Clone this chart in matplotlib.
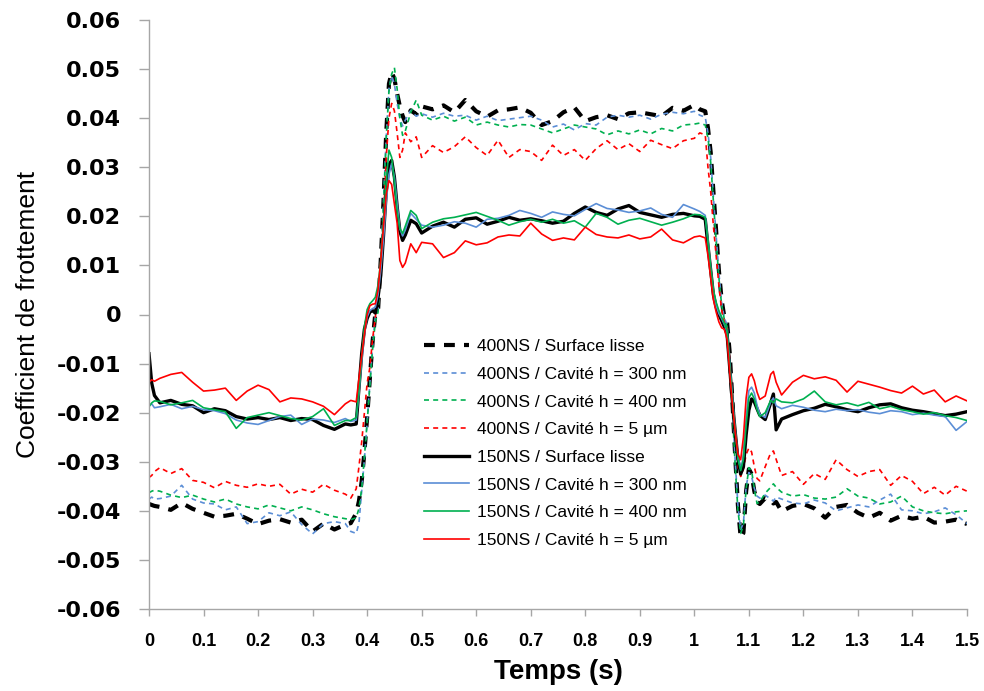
#!/usr/bin/env python3
"""
plot.py - Coefficient de frottement vs temps, 400NS (dashed) and 150NS (solid) runs.
Writes: out.png
"""
import matplotlib
matplotlib.use("Agg")
import matplotlib.pyplot as plt
import numpy as np

# sample times (s), denser around the two reversals
t = ([0.0, 0.005, 0.01]
     + [0.02, 0.04, 0.06, 0.08, 0.10, 0.12, 0.14, 0.16, 0.18, 0.20, 0.22, 0.24, 0.26, 0.28,
        0.30, 0.32, 0.34, 0.36]
     + [0.37, 0.38, 0.385, 0.39, 0.395, 0.40, 0.405, 0.41, 0.415, 0.42, 0.425, 0.43, 0.435,
        0.44, 0.445, 0.45, 0.455, 0.46, 0.465, 0.47, 0.48, 0.49, 0.50]
     + [0.52, 0.54, 0.56, 0.58, 0.60, 0.62, 0.64, 0.66, 0.68, 0.70, 0.72, 0.74, 0.76, 0.78,
        0.80, 0.82, 0.84, 0.86, 0.88, 0.90, 0.92, 0.94, 0.96, 0.98, 1.00]
     + [1.01, 1.02, 1.025, 1.03, 1.035, 1.04, 1.045, 1.05, 1.055, 1.06, 1.065, 1.07, 1.075,
        1.08, 1.085, 1.09, 1.095, 1.10, 1.105, 1.11, 1.115, 1.12, 1.13, 1.14, 1.145, 1.15, 1.16]
     + [1.18, 1.20, 1.22, 1.24, 1.26, 1.28, 1.30, 1.32, 1.34, 1.36, 1.38, 1.40, 1.42, 1.44,
        1.46, 1.48, 1.50])

# friction coefficient values, in thousandths
ns400_lisse = ([-38.6, -38.8, -39]
    + [-39.2, -39.8, -38.4, -39.6, -40.4, -41.2, -41, -40.6, -41.6, -42.7, -42, -41.7, -42.4,
       -41.8, -44.2, -42.6, -43.8, -42.8]
    + [-42.5, -40.5, -38, -34, -28, -21, -13, -5.5, 0.2, 0.8, 11, 23, 37, 47, 49.4, 48, 45,
       42.4, 40.5, 39.2, 41.6, 40.8, 42.4]
    + [41.8, 42.6, 41.2, 43.7, 41.4, 40.3, 41.6, 41.8, 42.2, 41.1, 38.6, 39.4, 41.2, 42.2,
       39.4, 40.2, 40.6, 39.8, 41, 41.2, 40.8, 40.4, 42.1, 41.5, 42.7]
    + [41.8, 41.4, 38, 33, 25, 17, 9, 3, -0.5, -1.5, -8, -18, -29, -39, -45.5, -44.5, -36,
       -31.5, -32.5, -36, -38.2, -38.6, -37.4, -37.8, -38.5, -38.2, -40.1]
    + [-39, -38.6, -39.5, -41.4, -39.2, -38.8, -40.4, -41.4, -40.4, -42, -41, -41.6, -41.2,
       -42.4, -42.2, -41.8, -42.7])

ns400_300 = ([-37.6, -37.2, -37.6]
    + [-37.5, -37, -34.8, -37.6, -38.4, -38.6, -39.8, -39.2, -42.6, -42.2, -40.4, -41, -40.2,
       -42.8, -44.7, -42.6, -42.2, -42.6]
    + [-44.2, -44.6, -42.5, -36, -29.5, -22, -14, -6.5, -0.5, 1, 11, 23, 36, 46, 48.6, 47,
       43, 40, 38.4, 39.6, 41.6, 40.4, 40.9]
    + [40.2, 41, 40.4, 40.6, 39.6, 40.4, 39.5, 39.8, 40.1, 40.4, 39.6, 38.2, 38.8, 37.6,
       38.9, 38.6, 40.2, 40.6, 40.2, 40.6, 39.8, 40.8, 41.2, 40.9, 41.4]
    + [40.6, 40.2, 37, 32, 24, 16, 8.5, 2.5, -0.8, -2, -9, -19, -30, -39, -43.8, -42.5, -35,
       -32.2, -33, -35.4, -37, -37.4, -36.8, -37.6, -38, -37.2, -37.6]
    + [-38.4, -38.6, -37.8, -38.4, -40, -39.4, -38.8, -39.2, -37.8, -36.6, -39.8, -40,
       -40.6, -40.2, -39.4, -40.8, -42.6])

ns400_400 = ([-36.3, -36, -35.8]
    + [-36, -36.8, -37.3, -36.8, -37.6, -38.2, -37.6, -38.6, -39.2, -39.6, -38.8, -39.4, -40,
       -39.2, -39.8, -40.6, -41.2, -41.6]
    + [-41.8, -41.4, -39.5, -35.5, -29, -22, -14.5, -7, -1.5, 0.5, 10, 22, 36, 45.5, 49,
       50.3, 46, 40, 36.5, 37.4, 41.2, 43.7, 40.6]
    + [39.6, 40.4, 39.4, 40.2, 38.6, 39.2, 38.6, 38.2, 38.7, 38.6, 37.8, 37, 37.8, 38.6,
       38.2, 37.8, 36.6, 37.4, 36.8, 37.6, 36.8, 37.9, 37.4, 38.6, 38.8]
    + [39, 38.6, 36, 31, 23, 15, 7.5, 2, -1, -2.5, -9.5, -20, -31, -40, -44.6, -43, -35.5,
       -31.2, -31.8, -35.6, -38.5, -38.2, -36.4, -35.2, -34.5, -35.2, -36.2]
    + [-37, -36.7, -37.4, -37.6, -37.2, -35.5, -37, -37.4, -38.6, -38.2, -37, -39.2, -40,
       -40.4, -40.6, -40.2, -40])

ns400_5um = ([-33.2, -32.8, -32]
    + [-31.2, -32.4, -31.4, -33.8, -34.2, -35.3, -34, -34.8, -35.2, -34.5, -35, -34.6, -36.6,
       -35.6, -36.2, -34.6, -35.8, -36.6]
    + [-37.4, -35.5, -31, -26, -20, -14, -10.8, -5, -0.6, 5, 10, 19, 32, 40, 43, 41.5, 37,
       32, 33.5, 37, 35.2, 36.2, 32]
    + [34.4, 33, 34.2, 36.2, 34, 32.4, 35.5, 32, 33.6, 33.2, 31.4, 34.5, 32.4, 33.6, 31.4,
       33.8, 35.4, 33.6, 34.8, 33.2, 35.5, 34.6, 33.8, 35.4, 35.9]
    + [37, 36.6, 30, 25, 18, 12, 6, 1, -1.5, -3, -9, -17, -25, -31, -33, -31.5, -28.5,
       -27.2, -28, -31, -33.4, -33.9, -31, -28.2, -27.8, -29.5, -32.8]
    + [-32, -34.6, -32.4, -33.6, -29.6, -31.6, -33, -32, -31.6, -34.8, -32.8, -34, -36.5,
       -35.2, -36.8, -35, -36])

ns150_lisse = ([-8, -14, -16.5]
    + [-18, -17.5, -18.3, -18.6, -20, -19.2, -19.6, -20.8, -21.3, -21, -21.4, -21, -21.6,
       -21.2, -21.4, -22.6, -23.4, -22.3]
    + [-22.5, -22.3, -15, -8, -3, -0.8, 0.5, 0.8, 0.3, 3.5, 8, 16, 25, 30.5, 31.4, 28, 22,
       17, 15.1, 16.2, 19.2, 18.5, 16.6]
    + [18, 18.8, 17.8, 19.4, 19.7, 18.4, 19, 19.8, 19.2, 19.5, 19.1, 18.6, 19, 20.6, 21.9,
       20.8, 20.2, 21.5, 22.2, 20.8, 20.3, 19.8, 20.4, 20.6, 20.1]
    + [20, 19.4, 14, 9, 4, 1.5, 0, -1.2, -2.5, -4, -11, -18, -24, -29.5, -32.5, -31, -24.5,
       -19.5, -17.2, -17.8, -19.2, -20.5, -21.4, -18, -16.2, -23.5, -21.3]
    + [-20.4, -19.6, -19.1, -18.3, -18.8, -19.4, -19.8, -19, -18.4, -18.2, -19, -19.5,
       -19.8, -20.2, -20.6, -20.3, -19.8])

ns150_300 = ([-18.6, -18.2, -19]
    + [-18.8, -18.3, -19.2, -18.7, -19.4, -19.6, -20.2, -21.5, -22.1, -22.4, -21.6, -20.8,
       -20.5, -22.4, -21.3, -21.5, -22, -21.2]
    + [-21.8, -21.5, -16, -9.5, -4, -0.5, 0.8, 1.2, 1.5, 4, 9, 15.5, 23, 28.5, 30.8, 28,
       22.5, 17.5, 16, 17.2, 20.6, 19.4, 18.2]
    + [17.8, 18.2, 18.9, 18.6, 17.8, 19.4, 19.6, 20.2, 21.2, 20.6, 19.8, 20.9, 20.4, 20.1,
       21.4, 22.6, 21.6, 21.3, 20.8, 21.1, 21.7, 20.4, 19.8, 22.4, 21.5]
    + [21, 20.2, 15, 9.5, 4.5, 1.8, 0.2, -0.8, -2, -3.5, -10, -17, -23.5, -29, -31.5, -29,
       -21, -15.5, -14.8, -16, -18.5, -20.3, -21, -17.8, -17, -18.6, -19.2]
    + [-18.5, -18.9, -19.5, -19.8, -19.3, -19.6, -19.4, -19.9, -20.2, -19.6, -19.8, -20.4,
       -20.1, -20.5, -20.8, -23.6, -21.8])

ns150_400 = ([-18.8, -18, -17.6]
    + [-17.7, -18.4, -18, -17.5, -19, -19.4, -19.8, -23.2, -21, -20.5, -20, -20.6, -21.2,
       -21.5, -20.8, -19.2, -22.6, -21.6]
    + [-21.6, -21, -15.5, -8.5, -2.5, 1, 2.2, 2.8, 3.5, 6, 11, 19, 27, 33.5, 32, 27, 21,
       17.5, 16.5, 18, 21.2, 20.2, 17.5]
    + [18.8, 19.5, 19.8, 20.3, 20.8, 20, 19.2, 18.2, 18.9, 19.4, 18.8, 19.4, 18.6, 19.1,
       17.8, 20.6, 19.8, 18.4, 19.2, 19.6, 18.9, 18.2, 18.8, 19.5, 20.4]
    + [20.3, 19.8, 15, 9.5, 5, 2.5, 0.8, -0.5, -1.8, -3.2, -10.5, -17.5, -24, -29.5, -31.8,
       -29.5, -22.5, -17, -16, -17.2, -19.4, -20.8, -20, -17.5, -18, -17.2, -17.8]
    + [-18, -17.2, -15.6, -17.8, -18.4, -18, -18.6, -17.9, -19.2, -18.7, -19.4, -19.8,
       -20.3, -20, -20.6, -21, -21.6])

ns150_5um = ([-13.8, -13.3, -13.6]
    + [-13, -12.2, -11.8, -13.8, -15.6, -15.4, -15, -17.5, -15.6, -14.4, -15.3, -17.8, -17,
       -17.2, -17.8, -18.7, -20.4, -18.2]
    + [-17.5, -17.8, -13, -8.5, -4, 0, 1.8, 2.1, 2.2, 5, 11, 18, 24.5, 27.3, 26.5, 22.5,
       18.6, 11, 9.6, 10.5, 14.4, 12.6, 14.7]
    + [14.4, 11.6, 12.6, 15, 14.2, 14.6, 15.8, 16.2, 16, 18.6, 16.4, 15.1, 15.6, 15.2, 17.8,
       16.3, 15.8, 15.6, 16.2, 15.4, 15.8, 17.4, 15.2, 14.6, 15.8]
    + [16, 15.6, 12, 7.5, 3, 0.5, -1.5, -2.7, -3, -5, -12, -18.5, -24, -28.5, -29.6, -25,
       -17, -12.8, -12.1, -13.5, -15.8, -17.3, -16.6, -12.2, -11.6, -13.8, -16.4]
    + [-13.8, -12.4, -13.1, -12.7, -13.4, -15.8, -13.6, -14.2, -14.8, -15.5, -16, -14.6,
       -16.2, -15.4, -17.8, -16.6, -17.6])

LABELS = [
    "400NS / Surface lisse",
    "400NS / Cavité h = 300 nm",
    "400NS / Cavité h = 400 nm",
    "400NS / Cavité h = 5 µm",
    "150NS / Surface lisse",
    "150NS / Cavité h = 300 nm",
    "150NS / Cavité h = 400 nm",
    "150NS / Cavité h = 5 µm",
]
SERIES = [ns400_lisse, ns400_300, ns400_400, ns400_5um,
          ns150_lisse, ns150_300, ns150_400, ns150_5um]

BLACK = "#000000"
BLUE = "#5B8ED6"
GREEN = "#00B050"
RED = "#FF0000"

STYLES = [
    dict(color=BLACK, lw=3.0, dashes=(2.6, 2.2)),
    dict(color=BLUE, lw=1.2, dashes=(3, 2.5)),
    dict(color=GREEN, lw=1.2, dashes=(3, 2.5)),
    dict(color=RED, lw=1.2, dashes=(3, 2.5)),
    dict(color=BLACK, lw=2.4),
    dict(color=BLUE, lw=1.2),
    dict(color=GREEN, lw=1.2),
    dict(color=RED, lw=1.2),
]

TEXT_FONT = ["Liberation Sans", "DejaVu Sans"]


def main():
    for s in SERIES:
        if len(s) != len(t):
            raise SystemExit(f"length mismatch: {len(s)} vs {len(t)}")

    fig = plt.figure(figsize=(9.84, 6.91), dpi=100)
    ax = fig.add_axes([149 / 984, 82 / 691, 818 / 984, 589 / 691])

    x = np.array(t)
    for vals, label, style in zip(SERIES, LABELS, STYLES):
        y = np.array(vals) / 1000.0
        ax.plot(x, y, label=label, solid_joinstyle="round", **style)

    ax.set_xlim(0, 1.5)
    ax.set_ylim(-0.06, 0.06)

    xt = [i / 10 for i in range(16)]
    ax.set_xticks(xt)
    ax.set_xticklabels(["0", "0.1", "0.2", "0.3", "0.4", "0.5", "0.6", "0.7", "0.8", "0.9",
                        "1", "1.1", "1.2", "1.3", "1.4", "1.5"],
                       family=TEXT_FONT, fontweight="bold", fontsize=13)
    yt = [i / 100 for i in range(-6, 7)]
    ax.set_yticks(yt)
    ax.set_yticklabels(["-0.06", "-0.05", "-0.04", "-0.03", "-0.02", "-0.01", "0",
                        "0.01", "0.02", "0.03", "0.04", "0.05", "0.06"],
                       family="DejaVu Sans", fontweight="bold", fontsize=16)

    for side in ("top", "right"):
        ax.spines[side].set_visible(False)
    for side in ("left", "bottom"):
        ax.spines[side].set_color("#A6A6A6")
        ax.spines[side].set_linewidth(1.0)
    ax.tick_params(axis="y", direction="out", length=7, width=1, color="#A6A6A6", pad=13)
    ax.tick_params(axis="x", direction="out", length=5, width=1, color="#A6A6A6", pad=12)

    ax.set_xlabel("Temps (s)", family=TEXT_FONT, fontweight="bold", fontsize=20, labelpad=7)
    ax.set_ylabel("Coefficient de frottement", family=TEXT_FONT, fontsize=19, labelpad=12)

    ax.legend(loc="upper left", bbox_to_anchor=(0.325, 0.473), frameon=False,
              prop=dict(family=TEXT_FONT, size=12.5), handlelength=2.6,
              handletextpad=0.5, labelspacing=0.72, borderpad=0)

    fig.savefig("out.png", dpi=100)
    plt.close(fig)


if __name__ == "__main__":
    main()
